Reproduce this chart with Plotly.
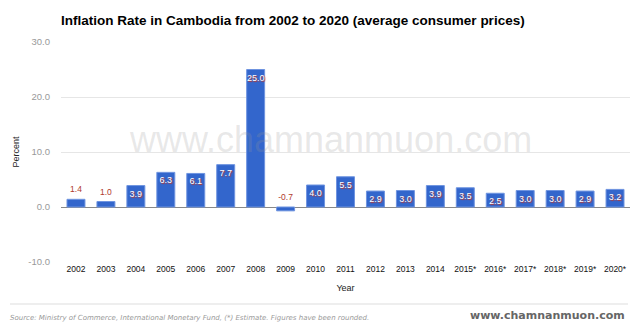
import plotly.graph_objects as go

years = ["2002", "2003", "2004", "2005", "2006", "2007", "2008", "2009", "2010", "2011",
         "2012", "2013", "2014", "2015*", "2016*", "2017*", "2018*", "2019*", "2020*"]
inflation = [1.4, 1.0, 3.9, 6.3, 6.1, 7.7, 25.0, -0.7, 4.0, 5.5,
             2.9, 3.0, 3.9, 3.5, 2.5, 3.0, 3.0, 2.9, 3.2]
y_ticks = [-10, 0, 10, 20, 30]

labels = [f"{v:.1f}" for v in inflation]
inside_mask = [v >= 2.0 for v in inflation]
bar_text = [t if m else "" for t, m in zip(labels, inside_mask)]
out_x = [x for x, m in zip(years, inside_mask) if not m]
out_y = [max(v, 0) for v, m in zip(inflation, inside_mask) if not m]
out_t = [t for t, m in zip(labels, inside_mask) if not m]

L, R, T, B = 61, 10, 42, 65
PW, PH = 640 - L - R, 327 - T - B


def px(x):
    return (x - L) / PW


def py(y):
    return (327 - B - y) / PH


fig = go.Figure()
fig.add_trace(go.Bar(
    x=years, y=inflation, text=bar_text,
    textposition="inside", insidetextanchor="end", textangle=0,
    insidetextfont=dict(family="Arial", size=9, color="white",
                        shadow="1px 1px 1px #c0392b"),
    marker=dict(color="#3366cc", line=dict(color="#6f94e0", width=1)),
    cliponaxis=False, hoverinfo="skip",
))
fig.add_trace(go.Scatter(
    x=out_x, y=out_y, text=out_t, mode="markers+text", textposition="top center",
    marker=dict(size=6, opacity=0),
    textfont=dict(family="Arial", size=8.5, color="#b03a2e"),
    hoverinfo="skip", cliponaxis=False,
))

fig.update_layout(
    width=640, height=327,
    margin=dict(l=L, r=R, t=T, b=B),
    paper_bgcolor="white", plot_bgcolor="white",
    showlegend=False, bargap=0.4,
    uniformtext=dict(minsize=9, mode="show"),
    title=dict(text="Inflation Rate in Cambodia from 2002 to 2020 (average consumer prices)",
               xref="container", yref="container",
               x=61/640, xanchor="left", y=1-20/327, yanchor="middle",
               pad=dict(l=0, r=0, t=0, b=0),
               font=dict(family="Arial", size=13.5, color="#000", weight="bold")),
    xaxis=dict(type="category", tickfont=dict(family="Arial", size=8.5, color="#111"),
               showgrid=False, ticks="", showline=False, automargin=False,
               range=[-0.5, len(years) - 0.5],
               title=dict(text="Year", font=dict(family="Arial", size=9, color="#222"), standoff=12)),
    yaxis=dict(range=[-10, 30], tickvals=y_ticks, ticktext=[f"{t:.1f}" for t in y_ticks],
               tickfont=dict(family="Arial", size=9.5, color="#999"),
               gridcolor="#e6e6e6", gridwidth=1, zeroline=True, zerolinecolor="#888",
               zerolinewidth=1, ticks="", ticklabelstandoff=10, automargin=False,
               title=dict(text="Percent", font=dict(family="Arial", size=9, color="#222"), standoff=7)),
)

fig.add_annotation(text="www.chamnanmuon.com", xref="paper", yref="paper",
                   x=px(127), y=py(139), xanchor="left", yanchor="middle", showarrow=False,
                   font=dict(family="Arial", size=36, color="rgba(150,150,150,0.22)"))
fig.add_shape(type="line", xref="paper", yref="paper",
              x0=px(10), x1=px(628), y0=py(304), y1=py(304),
              line=dict(color="#dddddd", width=1))
fig.add_annotation(text="<i>Source: Ministry of Commerce, International Monetary Fund, (*) Estimate. Figures have been rounded.</i>",
                   xref="paper", yref="paper", x=px(8), y=py(317.5),
                   xanchor="left", yanchor="middle", showarrow=False,
                   font=dict(family="DejaVu Sans", size=7, color="#999"))
fig.add_annotation(text="<b>www.chamnanmuon.com</b>",
                   xref="paper", yref="paper", x=px(627), y=py(315.5),
                   xanchor="right", yanchor="middle", showarrow=False,
                   font=dict(family="DejaVu Sans", size=11, color="#666"))

fig.write_html("out.html")
